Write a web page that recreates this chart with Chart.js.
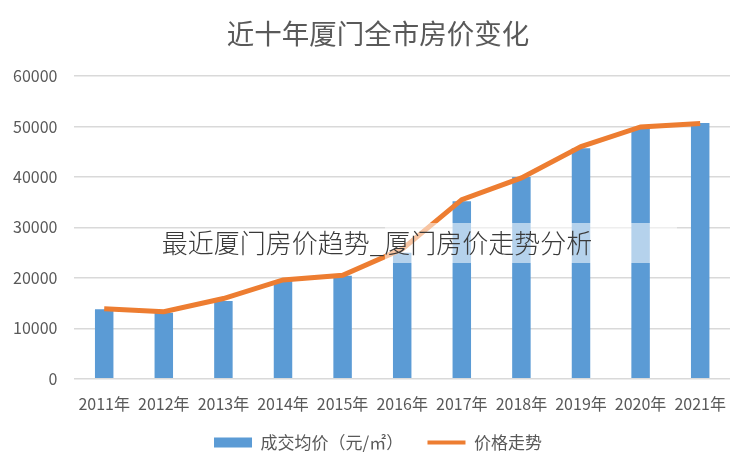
<!DOCTYPE html>
<html>
<head>
<meta charset="utf-8">
<script src="https://cdn.jsdelivr.net/npm/chart.js@4/dist/chart.umd.min.js"></script>
<style>
    html, body { margin: 0; padding: 0; background: #fff; }
    #wrap { width: 752px; height: 472px; }
</style>
</head>
<body>
<div id="wrap"><canvas id="priceChart"></canvas></div>
<script>
// Datos del gráfico
const years = ['2011年', '2012年', '2013年', '2014年', '2015年', '2016年', '2017年', '2018年', '2019年', '2020年', '2021年'];
const avgPrice = [13800, 13100, 15400, 19400, 20400, 25000, 35200, 40000, 45700, 49700, 50700];
const trendPrice = [13900, 13300, 15900, 19600, 20500, 25700, 35500, 39800, 46000, 49900, 50600];
const yTicks = [0, 10000, 20000, 30000, 40000, 50000, 60000];

const FONT = '"Noto Sans CJK SC", "Noto Sans", sans-serif';
const BLUE = '#5b9bd5';
const ORANGE = '#ed7d31';
const TEXT = '#595959';

// Marca de agua sobre el gráfico
const watermark = {
    id: 'watermark',
    afterDraw(chart) {
        const ctx = chart.ctx;
        ctx.save();
        ctx.fillStyle = 'rgba(255,255,255,0.55)';
        ctx.fillRect(385, 223, 292, 40);
        ctx.fillStyle = '#3a3a3a';
        ctx.font = '300 26px ' + FONT;
        ctx.textAlign = 'center';
        ctx.textBaseline = 'middle';
        ctx.fillText('最近厦门房价趋势_厦门房价走势分析', 377, 243);
        ctx.restore();
    }
};

const ctx = document.getElementById('priceChart').getContext('2d');
new Chart(ctx, {
    type: 'bar',
    data: {
        labels: years,
        datasets: [{
            type: 'line',
            label: '价格走势',
            data: trendPrice,
            borderColor: ORANGE,
            borderWidth: 5,
            pointRadius: 0,
            tension: 0,
            order: 1
        }, {
            type: 'bar',
            label: '成交均价（元/㎡）',
            data: avgPrice,
            backgroundColor: BLUE,
            barPercentage: 0.31,
            categoryPercentage: 1,
            order: 2
        }]
    },
    options: {
        responsive: true,
        maintainAspectRatio: false,
        animation: false,
        layout: { padding: { left: -4, right: -8, top: 8, bottom: 11 } },
        plugins: {
            title: {
                display: true,
                text: '近十年厦门全市房价变化',
                color: TEXT,
                font: { family: FONT, size: 27.5, weight: 'normal' },
                padding: { top: 9, bottom: 26 }
            },
            legend: {
                position: 'bottom',
                labels: {
                    color: TEXT,
                    font: { family: FONT, size: 17 },
                    usePointStyle: true,
                    pointStyleWidth: 38,
                    boxHeight: 10,
                    padding: 12,
                    generateLabels() {
                        return [
                            { text: '成交均价（元/㎡）\u3000 ', pointStyle: 'rect', fillStyle: BLUE, strokeStyle: BLUE, lineWidth: 0, datasetIndex: 1, fontColor: TEXT },
                            { text: '价格走势', pointStyle: 'line', fillStyle: ORANGE, strokeStyle: ORANGE, lineWidth: 4, datasetIndex: 0, fontColor: TEXT }
                        ];
                    }
                }
            },
            tooltip: { enabled: false }
        },
        scales: {
            x: {
                grid: { display: false },
                border: { display: false },
                ticks: { color: TEXT, font: { family: FONT, size: 16 }, padding: 8 }
            },
            y: {
                min: 0,
                max: 60000,
                afterBuildTicks(axis) { axis.ticks = yTicks.map(v => ({ value: v })); },
                grid: { color: '#d9d9d9', lineWidth: 1.5, drawTicks: false },
                border: { display: false },
                ticks: { color: TEXT, font: { family: FONT, size: 16 }, padding: 17, callback: v => String(v) }
            },
            // eje vacío a la derecha, solo reserva margen
            yRight: {
                position: 'right',
                grid: { display: false },
                border: { display: false },
                ticks: { display: false },
                afterFit(scale) { scale.width = 30; }
            }
        }
    },
    plugins: [watermark]
});
</script>
</body>
</html>
